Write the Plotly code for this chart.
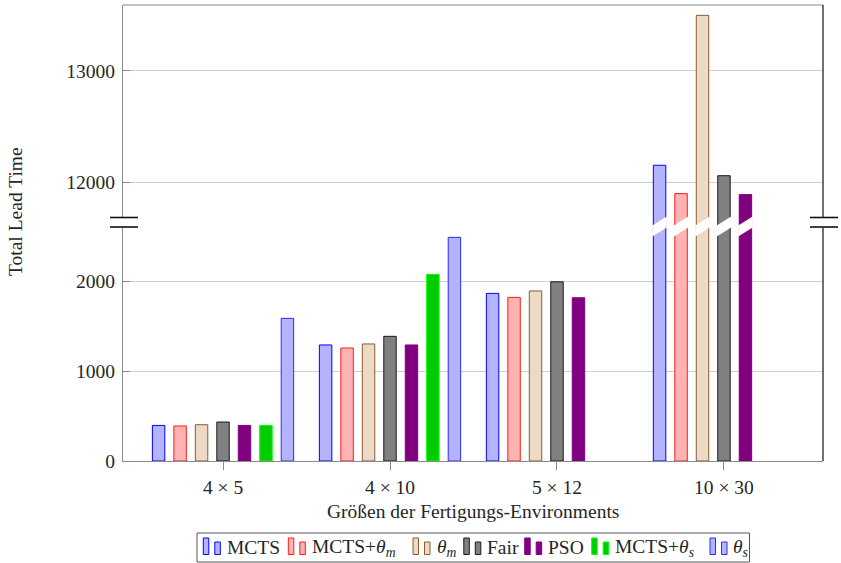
import plotly.graph_objects as go

# Environment sizes on the x axis
categories = ["4 × 5", "4 × 10", "5 × 12", "10 × 30"]

# Total lead time per method and environment size
mcts = [396, 1292, 1866, 12153]
mcts_theta_m = [390, 1258, 1822, 11898]
theta_m = [404, 1303, 1893, 13500]
fair = [434, 1388, 1995, 12059]
pso = [396, 1292, 1818, 11889]
mcts_theta_s = [396, 2078, None, None]
theta_s = [1588, 2490, None, None]

series_labels = [
    "MCTS",
    "MCTS+<i>θ</i><sub><i>m</i></sub>",
    "<i>θ</i><sub><i>m</i></sub>",
    "Fair",
    "PSO",
    "MCTS+<i>θ</i><sub><i>s</i></sub>",
    "<i>θ</i><sub><i>s</i></sub>",
]
series_values = [mcts, mcts_theta_m, theta_m, fair, pso, mcts_theta_s, theta_s]
fill_colors = ["#b3b3ff", "#ffb3b3", "#ecd9c6", "#808080", "#800080", "#00cc00", "#b3b3ff"]
line_colors = ["#0000ff", "#ff1a1a", "#8c5a2b", "#1a1a1a", "#800080", "#00ff00", "#2a2aff"]

# Tick values of the two axis segments
lower_ticks = [0, 1000, 2000]
upper_ticks = [12000, 13000]

W, H = 841, 563
L, R, T, B = 123, 18, 5, 102
PW, PH = W - L - R, H - T - B
BREAK_Y = 222  # pixel row where the two segments meet


def px_x(X):
    return (X - L) / PW


def px_y(Y):
    return (T + PH - Y) / PH


split = px_y(BREAK_Y)
lower_range = [0, 2661]
upper_range = [11643, 13593]

FONT = "Liberation Serif"
TXT = "#262626"
GRID = "#d0d0d0"
AXIS = "#8a8a8a"

fig = go.Figure()
for yax in ("y", "y2"):
    for lab, vals, fc, lc in zip(series_labels, series_values, fill_colors, line_colors):
        fig.add_trace(go.Bar(
            x=categories, y=vals, name=lab, xaxis="x", yaxis=yax,
            marker=dict(color=fc, line=dict(color=lc, width=1)),
            showlegend=False,
        ))

n_series = len(series_values)
bargap = 0.1
bargroupgap = 0.42
slot = (1 - bargap) / n_series

shapes = []

# white slanted cuts through bars that cross the break
half = slot * (1 - bargroupgap) / 2 + 0.006
for ci, cat in enumerate(categories):
    for si, vals in enumerate(series_values):
        v = vals[ci]
        if v is None or v < upper_range[0]:
            continue
        c = ci + (si - (n_series - 1) / 2) * slot
        path = (f"M {c - half},{px_y(236.5)} L {c - half},{px_y(225.5)} "
                f"L {c + half},{px_y(216.5)} L {c + half},{px_y(227.5)} Z")
        shapes.append(dict(type="path", xref="x", yref="paper", path=path,
                           fillcolor="white", line=dict(width=0), layer="above"))

# frame: top and right edges
shapes.append(dict(type="line", xref="paper", yref="paper", x0=0, x1=1, y0=1, y1=1,
                   line=dict(color=AXIS, width=1)))
shapes.append(dict(type="line", xref="paper", yref="paper", x0=1, x1=1, y0=1, y1=px_y(217.5),
                   line=dict(color="#111111", width=1.2)))
shapes.append(dict(type="line", xref="paper", yref="paper", x0=1, x1=1, y0=px_y(227.5), y1=0,
                   line=dict(color="#111111", width=1.2)))

# axis break marks on both sides
for xc in (L, L + PW):
    shapes.append(dict(type="rect", xref="paper", yref="paper",
                       x0=px_x(xc - 3), x1=px_x(xc + 3), y0=px_y(226.5), y1=px_y(217.5),
                       fillcolor="white", line=dict(width=0), layer="above"))
    for yy in (217.5, 227):
        shapes.append(dict(type="line", xref="paper", yref="paper",
                           x0=px_x(xc - 13), x1=px_x(xc + 15), y0=px_y(yy), y1=px_y(yy),
                           line=dict(color="#111111", width=1.6), layer="above"))

# legend frame and symbols
shapes.append(dict(type="rect", xref="paper", yref="paper",
                   x0=px_x(197), x1=px_x(749.5), y0=px_y(533), y1=px_y(562),
                   line=dict(color="#555555", width=1), fillcolor="rgba(0,0,0,0)"))
sym_x = [203.3, 288.3, 413, 463.8, 524.7, 591.7, 710]
txt_x = [224.5, 309.5, 434.5, 485, 546, 613, 730.5]
annotations = []
for sx, tx, lab, fc, lc in zip(sym_x, txt_x, series_labels, fill_colors, line_colors):
    for dx, top in ((0, 538), (11.5, 542)):
        shapes.append(dict(type="rect", xref="paper", yref="paper",
                           x0=px_x(sx + dx), x1=px_x(sx + dx + 5.5),
                           y0=px_y(554.5), y1=px_y(top),
                           fillcolor=fc, line=dict(color=lc, width=1)))
    annotations.append(dict(text=lab, xref="paper", yref="paper", x=px_x(tx), y=px_y(547.5),
                            xanchor="left", yanchor="middle", showarrow=False,
                            font=dict(family=FONT, size=19.5, color=TXT)))

annotations.append(dict(text="Total Lead Time", xref="paper", yref="paper",
                        x=px_x(15), y=px_y(212), textangle=-90,
                        xanchor="center", yanchor="middle", showarrow=False,
                        font=dict(family=FONT, size=19.5, color=TXT)))
annotations.append(dict(text="Größen der Fertigungs-Environments", xref="paper", yref="paper",
                        x=0.5, y=px_y(511), xanchor="center", yanchor="middle", showarrow=False,
                        font=dict(family=FONT, size=19.5, color=TXT)))

yaxis_common = dict(
    anchor="x", showgrid=True, gridcolor=GRID, gridwidth=1, zeroline=False,
    showline=True, linecolor=AXIS, linewidth=1.2, tickformat="d",
    ticks="inside", ticklen=7, tickcolor=AXIS, ticklabelstandoff=3,
    tickfont=dict(family=FONT, size=19.5, color=TXT),
)

fig.update_layout(
    width=W, height=H,
    margin=dict(l=L, r=R, t=T, b=B),
    paper_bgcolor="white", plot_bgcolor="white",
    barmode="group", bargap=bargap, bargroupgap=bargroupgap,
    showlegend=False,
    xaxis=dict(
        type="category", categoryorder="array", categoryarray=categories,
        range=[-0.599, 3.593], anchor="y",
        showline=True, linecolor=AXIS, linewidth=1.2, showgrid=False, zeroline=False,
        ticks="outside", ticklen=8, tickcolor=AXIS,
        tickfont=dict(family=FONT, size=19.5, color=TXT),
    ),
    yaxis=dict(domain=[0, split], range=lower_range, tickvals=lower_ticks, **yaxis_common),
    yaxis2=dict(domain=[split, 1], range=upper_range, tickvals=upper_ticks, **yaxis_common),
    shapes=shapes,
    annotations=annotations,
)

fig.write_html("out.html")
